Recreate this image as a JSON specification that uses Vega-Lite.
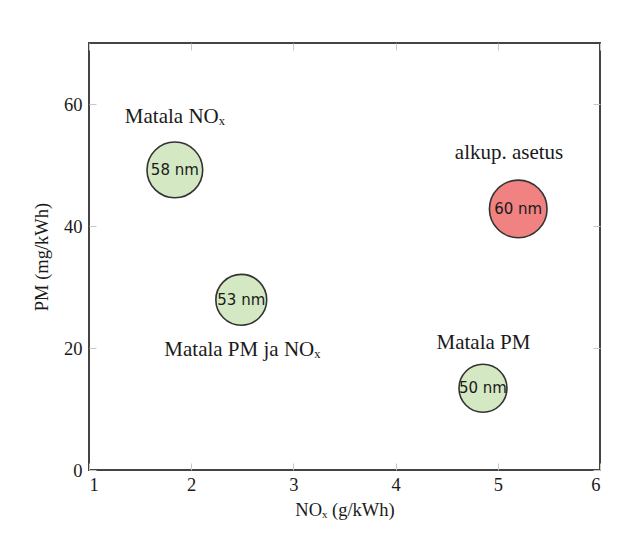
{
  "$schema": "https://vega.github.io/schema/vega-lite/v6.json",
  "width": 511,
  "height": 427,
  "autosize": "none",
  "padding": {"left": 89, "top": 43, "right": 34, "bottom": 69},
  "background": "white",
  "config": {
    "view": {"stroke": "#444444", "strokeWidth": 2},
    "font": "Liberation Serif",
    "axis": {
      "domain": false,
      "grid": false,
      "tickColor": "#c8c8c8",
      "tickWidth": 1,
      "labelFont": "Liberation Serif",
      "labelFontSize": 18.5,
      "labelColor": "#1a1a1a",
      "titleFont": "Liberation Serif",
      "titleFontSize": 18.5,
      "titleFontWeight": "normal",
      "titleColor": "#1a1a1a"
    }
  },
  "data": {
    "values": [
      {"label": "Matala NOₓ", "nox": 1.84, "pm": 49.2, "nm": 58, "tag": "58 nm", "setting": "muutettu", "lx": 1.84, "ly": 57.9},
      {"label": "Matala PM ja NOₓ", "nox": 2.49, "pm": 27.9, "nm": 53, "tag": "53 nm", "setting": "muutettu", "lx": 2.5, "ly": 19.7},
      {"label": "alkup. asetus", "nox": 5.2, "pm": 42.8, "nm": 60, "tag": "60 nm", "setting": "alkup.", "lx": 5.11, "ly": 52.0},
      {"label": "Matala PM", "nox": 4.855, "pm": 13.4, "nm": 50, "tag": "50 nm", "setting": "muutettu", "lx": 4.86, "ly": 20.8}
    ]
  },
  "resolve": {"axis": {"x": "independent", "y": "independent"}},
  "layer": [
    {
      "mark": {"type": "circle", "opacity": 1, "stroke": "#333333", "strokeWidth": 1.6},
      "encoding": {
        "x": {
          "field": "nox", "type": "quantitative",
          "scale": {"domain": [1, 6], "nice": false, "zero": false},
          "axis": {"orient": "bottom", "values": [1, 2, 3, 4, 5, 6], "tickSize": -7, "labelPadding": 12, "title": "NOₓ (g/kWh)", "titlePadding": 7}
        },
        "y": {
          "field": "pm", "type": "quantitative",
          "scale": {"domain": [0, 70], "nice": false},
          "axis": {"orient": "left", "values": [0, 20, 40, 60], "tickSize": -7, "labelPadding": 14, "title": "PM (mg/kWh)", "titlePadding": 12}
        },
        "size": {"field": "nm", "type": "quantitative", "scale": {"type": "pow", "exponent": 2, "domain": [0, 60], "range": [0, 3318]}, "legend": null},
        "fill": {"field": "setting", "type": "nominal", "scale": {"domain": ["muutettu", "alkup."], "range": ["#d3e8c3", "#f08282"]}, "legend": null}
      }
    },
    {
      "mark": {"type": "text", "font": "DejaVu Sans", "fontSize": 15, "color": "#1a1a1a", "align": "center", "baseline": "middle"},
      "encoding": {
        "x": {"field": "nox", "type": "quantitative", "axis": {"orient": "top", "values": [1, 2, 3, 4, 5, 6], "tickSize": -7, "labels": false, "title": null}},
        "y": {"field": "pm", "type": "quantitative", "axis": {"orient": "right", "values": [0, 20, 40, 60], "tickSize": -7, "labels": false, "title": null}},
        "text": {"field": "tag"}
      }
    },
    {
      "mark": {"type": "text", "font": "Liberation Serif", "fontSize": 21, "color": "#1a1a1a", "align": "center", "baseline": "middle"},
      "encoding": {
        "x": {"field": "lx", "type": "quantitative", "axis": null},
        "y": {"field": "ly", "type": "quantitative", "axis": null},
        "text": {"field": "label"}
      }
    }
  ]
}
